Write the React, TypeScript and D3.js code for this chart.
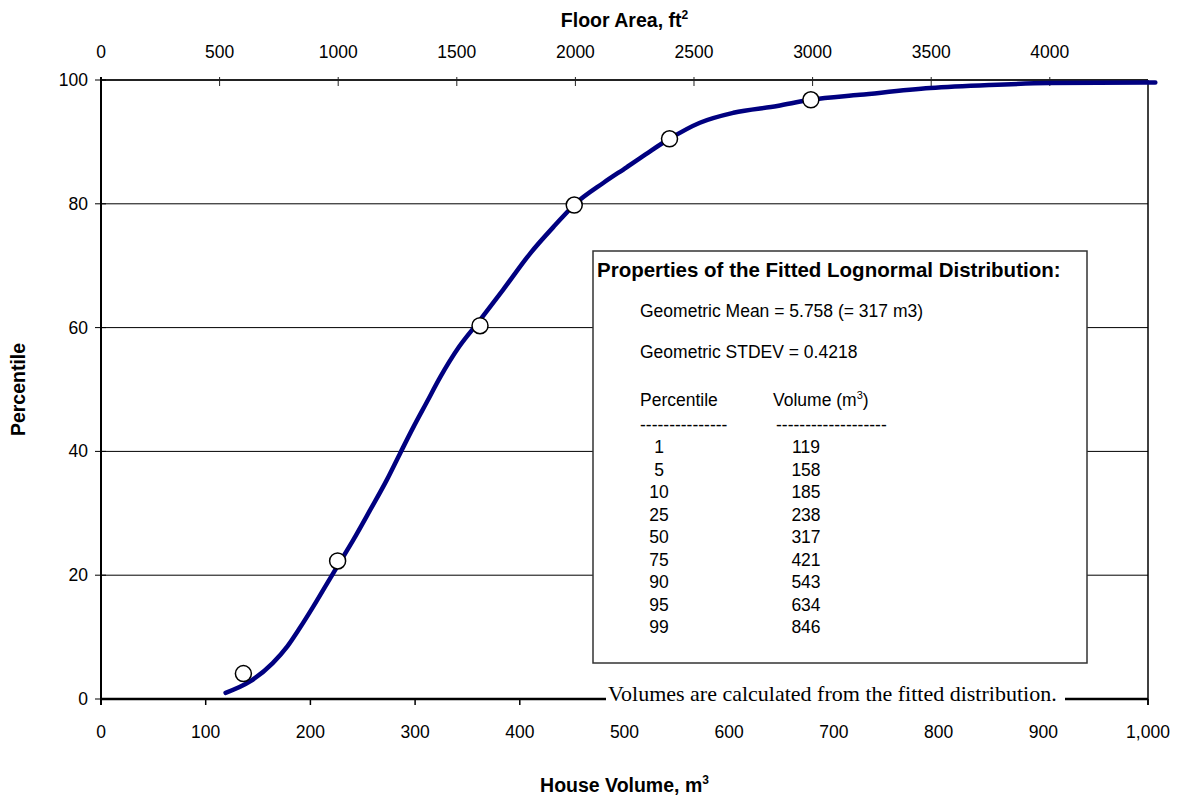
import React from "react";
import * as d3 from "d3";

// ---- data ----
const volumeTicks = [0, 100, 200, 300, 400, 500, 600, 700, 800, 900, 1000];
const floorTicks = [0, 500, 1000, 1500, 2000, 2500, 3000, 3500, 4000];
const percentTicks = [0, 20, 40, 60, 80, 100];
const gridTicks = [20, 40, 60, 80];

// fitted curve (house volume m3, percentile)
const curveVol = [119, 142, 164, 178, 190, 203, 215, 226, 241, 257, 273, 286, 298, 311, 324, 342, 361, 384, 410, 434, 453, 480, 502, 522, 543, 572, 604, 646, 678, 725, 792, 849, 905, 999, 1007];
const curvePct = [1.0, 2.8, 5.8, 8.5, 11.5, 15.0, 18.4, 21.5, 25.7, 30.5, 35.4, 39.8, 43.8, 47.9, 52.0, 56.9, 61.0, 66.1, 72.0, 76.6, 80.0, 83.4, 85.9, 88.2, 90.5, 93.1, 94.7, 95.8, 96.8, 97.6, 98.7, 99.2, 99.5, 99.6, 99.6];

// observed points
const obsVol = [136, 226, 362, 452, 543, 678];
const obsPct = [4.1, 22.3, 60.3, 79.8, 90.5, 96.8];

// properties table
const tablePct = ["1", "5", "10", "25", "50", "75", "90", "95", "99"];
const tableVol = ["119", "158", "185", "238", "317", "421", "543", "634", "846"];

const W = 1178;
const H = 801;
const L = 101, R = 1148, T = 80, B = 699;

export default function App() {
  const x = d3.scaleLinear().domain([0, 1000]).range([L, R]);
  const xTop = d3.scaleLinear().domain([0, 4414]).range([L, R]);
  const y = d3.scaleLinear().domain([0, 100]).range([B, T]);
  const fmt = d3.format(",");

  const pts = curveVol.map((v, i) => [v, curvePct[i]] as [number, number]);
  const line = d3
    .line<[number, number]>()
    .x((d) => x(d[0]))
    .y((d) => y(d[1]))
    .curve(d3.curveMonotoneX);

  const sans = "Arial, 'Liberation Sans', sans-serif";
  const serif = "'Times New Roman', 'Liberation Serif', serif";

  const boxX = 593, boxY = 251, boxW = 494, boxH = 412;
  const rowY0 = 453, rowDy = 22.5;
  const tick = 17.5;
  const body = 17.5;

  return (
    <svg
      width={W}
      height={H}
      style={{ position: "absolute", left: 0, top: 0, background: "#fff" }}
      fontFamily={sans}
    >
      <rect x={0} y={0} width={W} height={H} fill="#fff" />

      {/* grid lines */}
      {gridTicks.map((t) => (
        <line key={"g" + t} x1={L} x2={R} y1={y(t)} y2={y(t)} stroke="#000" strokeWidth={1} />
      ))}

      {/* right border */}
      <line x1={R} x2={R} y1={T} y2={B + 6} stroke="#000" strokeWidth={1.5} />

      {/* top axis */}
      <line x1={L} x2={R} y1={T} y2={T} stroke="#222" strokeWidth={2} />
      {floorTicks.map((t) => (
        <g key={"t" + t}>
          <line x1={xTop(t)} x2={xTop(t)} y1={T - 3} y2={T + 6} stroke="#222" strokeWidth={1} />
          <text x={xTop(t)} y={58} textAnchor="middle" fontSize={tick}>
            {t}
          </text>
        </g>
      ))}
      <text x={(L + R) / 2} y={27} textAnchor="middle" fontSize={19.5} fontWeight="bold">
        Floor Area, ft
        <tspan dy={-8} fontSize={12}>2</tspan>
      </text>

      {/* left axis */}
      <line x1={L} x2={L} y1={T - 3} y2={B + 6} stroke="#000" strokeWidth={2} />
      {percentTicks.map((t) => (
        <g key={"y" + t}>
          <line x1={L - 6} x2={L + 5} y1={y(t)} y2={y(t)} stroke="#000" strokeWidth={1} />
          <text x={88} y={y(t) + 6} textAnchor="end" fontSize={tick}>
            {t}
          </text>
        </g>
      ))}
      <text
        transform={`translate(25, ${(T + B) / 2}) rotate(-90)`}
        textAnchor="middle"
        fontSize={19.5}
        fontWeight="bold"
      >
        Percentile
      </text>

      {/* bottom axis */}
      <line x1={L} x2={R} y1={B} y2={B} stroke="#000" strokeWidth={2.5} />
      {volumeTicks.map((t) => (
        <g key={"b" + t}>
          <line x1={x(t)} x2={x(t)} y1={B} y2={B + 6} stroke="#000" strokeWidth={1.5} />
          <text x={x(t)} y={738} textAnchor="middle" fontSize={tick}>
            {fmt(t)}
          </text>
        </g>
      ))}
      <text x={(L + R) / 2} y={792} textAnchor="middle" fontSize={19.5} fontWeight="bold">
        House Volume, m
        <tspan dy={-8} fontSize={12}>3</tspan>
      </text>

      {/* properties box */}
      <rect x={boxX} y={boxY} width={boxW} height={boxH} fill="#fff" stroke="#333" strokeWidth={1.5} />
      <text x={597} y={277} fontSize={20.5} fontWeight="bold">
        Properties of the Fitted Lognormal Distribution:
      </text>
      <text x={640} y={317} fontSize={body}>
        Geometric Mean = 5.758 (= 317 m3)
      </text>
      <text x={640} y={358} fontSize={body}>
        Geometric STDEV = 0.4218
      </text>
      <text x={640} y={406} fontSize={body}>
        Percentile
      </text>
      <text x={773} y={406} fontSize={body}>
        Volume (m<tspan dy={-7} fontSize={11}>3</tspan>
        <tspan dy={7}>)</tspan>
      </text>
      <text x={640} y={431} fontSize={body}>
        ---------------
      </text>
      <text x={776} y={431} fontSize={body}>
        -------------------
      </text>
      {tablePct.map((p, i) => (
        <g key={"r" + i}>
          <text x={659} y={rowY0 + i * rowDy} textAnchor="middle" fontSize={body}>
            {p}
          </text>
          <text x={806} y={rowY0 + i * rowDy} textAnchor="middle" fontSize={body}>
            {tableVol[i]}
          </text>
        </g>
      ))}

      {/* footnote over the axis */}
      <rect x={606} y={682} width={459} height={26} fill="#fff" />
      <text x={608} y={701} fontSize={22} fontFamily={serif}>
        Volumes are calculated from the fitted distribution.
      </text>

      {/* fitted curve */}
      <path d={line(pts) || ""} fill="none" stroke="#000080" strokeWidth={4.5} strokeLinecap="round" />

      {/* observed points */}
      {obsVol.map((v, i) => (
        <circle key={"p" + i} cx={x(v)} cy={y(obsPct[i])} r={8} fill="#fff" stroke="#000" strokeWidth={1.5} />
      ))}
    </svg>
  );
}
